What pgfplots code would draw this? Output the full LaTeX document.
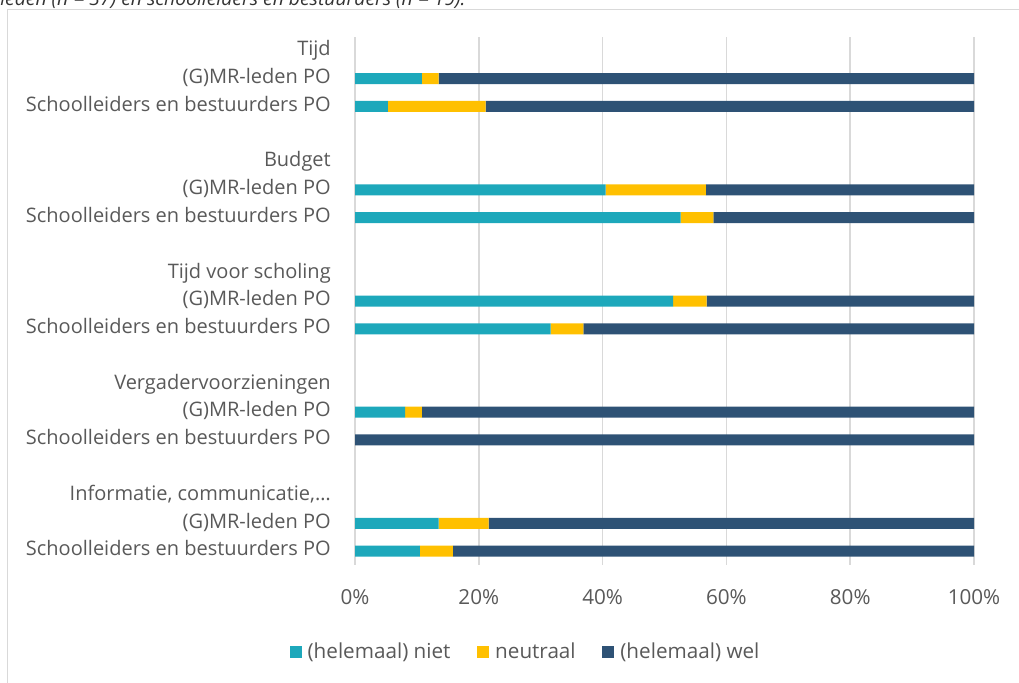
\documentclass[border=0pt]{standalone}
\usepackage{pgfplots}
\pgfplotsset{compat=1.18}
\usepackage{fontspec}
\setmainfont{Open Sans}

\definecolor{niet}{HTML}{1DA8BB}
\definecolor{neutraal}{HTML}{FFC000}
\definecolor{wel}{HTML}{2E5275}
\definecolor{gridgray}{HTML}{D9D9D9}
\definecolor{txt}{HTML}{595959}

\begin{document}
\begin{tikzpicture}[x=1pt,y=1pt]
\useasboundingbox (0,0) rectangle (764.25,511.5);
% caption line above the chart area
\node[anchor=base west, inner sep=0pt, font=\itshape\fontsize{14.5}{16}\selectfont, text=black!80]
  at (0,507.5) {leden (\textit{n} = 37) en schoolleiders en bestuurders (\textit{n} = 19).};
% chart frame
\draw[gridgray, line width=1.1pt] (5.6,-10) -- (5.6,504.4) -- (780,504.4);

\begin{axis}[
  at={(266.25pt,87.75pt)}, anchor=south west,
  scale only axis, width=464.25pt, height=396pt,
  xbar stacked, bar width=8.25pt,
  xmin=0, xmax=100, ymin=-0.5, ymax=18.5, y dir=reverse,
  xtick={0,20,...,100},
  xticklabels={0\%,20\%,40\%,60\%,80\%,100\%},
  ytick={0,...,18},
  yticklabels={Tijd,(G)MR-leden PO,Schoolleiders en bestuurders PO,{},
    Budget,(G)MR-leden PO,Schoolleiders en bestuurders PO,{},
    Tijd voor scholing,(G)MR-leden PO,Schoolleiders en bestuurders PO,{},
    Vergadervoorzieningen,(G)MR-leden PO,Schoolleiders en bestuurders PO,{},
    {Informatie, communicatie,…},(G)MR-leden PO,Schoolleiders en bestuurders PO},
  major tick length=0pt,
  axis line style={draw=none},
  xmajorgrids, grid style={gridgray, line width=1.1pt},
  ticklabel style={text=txt},
  yticklabel style={font=\fontsize{15}{17}\selectfont, anchor=east, inner sep=0pt, xshift=-18pt, text height=0.72em, text depth=0pt},
  xticklabel style={font=\fontsize{15.5}{17}\selectfont, anchor=center, inner sep=0pt, yshift=-26.25pt, text height=0.72em, text depth=0pt},
  legend columns=3,
  legend style={at={(0.276,-0.165)}, anchor=center, draw=none, fill=none,
    font=\fontsize{15.5}{17}\selectfont, text=txt,
    /tikz/every even column/.append style={column sep=18pt},
    /tikz/every odd column/.append style={column sep=2.5pt}},
  legend image code/.code={\fill[#1] (0pt,-4.4pt) rectangle (9pt,4.4pt);},
]
\addplot[fill=niet, draw=none] coordinates {
  (10.8,1) (5.3,2) (40.5,5) (52.6,6) (51.4,9) (31.6,10) (8.1,13) (0,14) (13.5,17) (10.5,18)};
\addplot[fill=neutraal, draw=none] coordinates {
  (2.7,1) (15.8,2) (16.2,5) (5.3,6) (5.4,9) (5.3,10) (2.7,13) (0,14) (8.1,17) (5.3,18)};
\addplot[fill=wel, draw=none] coordinates {
  (86.5,1) (78.9,2) (43.3,5) (42.1,6) (43.2,9) (63.1,10) (89.2,13) (100,14) (78.4,17) (84.2,18)};
\legend{(helemaal) niet,neutraal,(helemaal) wel}
\end{axis}
\end{tikzpicture}
\end{document}
